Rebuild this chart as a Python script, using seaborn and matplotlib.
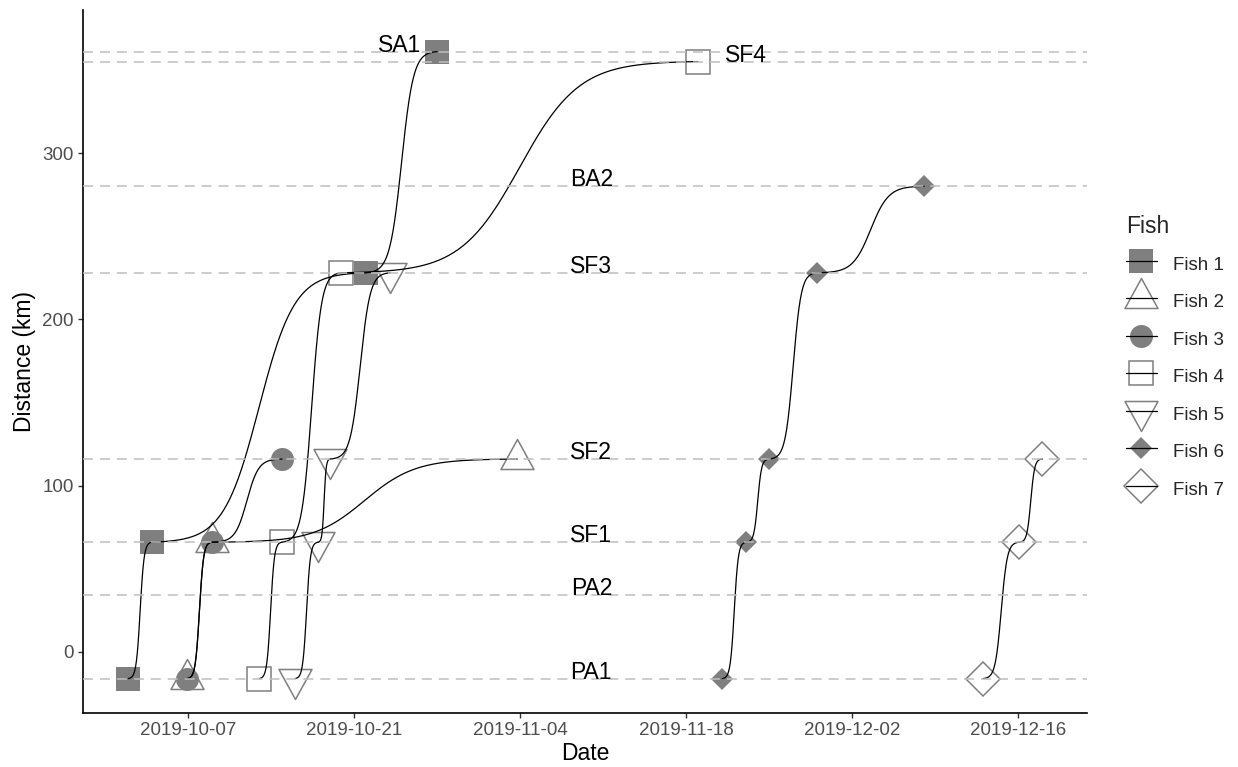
import numpy as np
import pandas as pd
import matplotlib
matplotlib.use("Agg")
import matplotlib.pyplot as plt
import matplotlib.dates as mdates
from matplotlib.lines import Line2D
from matplotlib.path import Path
from matplotlib.markers import MarkerStyle
from matplotlib.legend_handler import HandlerTuple
import seaborn as sns

# Receiver stations and their distance along the river (km)
stations = ["PA1", "PA2", "SF1", "SF2", "SF3", "BA2", "SF4", "SA1"]
station_km = [-16, 34, 66, 116, 228, 280, 355, 361]
label_dates = ["2019-11-10", "2019-11-10", "2019-11-10", "2019-11-10",
               "2019-11-10", "2019-11-10", "2019-11-23", "2019-10-24 21:00"]

fish_names = ["Fish 1", "Fish 2", "Fish 3", "Fish 4", "Fish 5", "Fish 6", "Fish 7"]

# Detection histories: time of first detection at each station
fish1_times = ["2019-10-01 23:00", "2019-10-03 23:00", "2019-10-22 00:00", "2019-10-28 00:00"]
fish1_sites = ["PA1", "SF1", "SF3", "SA1"]
fish2_times = ["2019-10-06 22:00", "2019-10-09 00:00", "2019-11-03 18:00"]
fish2_sites = ["PA1", "SF1", "SF2"]
fish3_times = ["2019-10-06 22:00", "2019-10-09 00:00", "2019-10-14 22:00"]
fish3_sites = ["PA1", "SF1", "SF2"]
fish4_times = ["2019-10-13 00:00", "2019-10-14 22:00", "2019-10-19 22:00", "2019-11-19 00:00"]
fish4_sites = ["PA1", "SF1", "SF3", "SF4"]
fish5_times = ["2019-10-16 00:30", "2019-10-17 23:00", "2019-10-18 23:30", "2019-10-24 01:00"]
fish5_sites = ["PA1", "SF1", "SF2", "SF3"]
fish6_times = ["2019-11-21 01:00", "2019-11-23 01:30", "2019-11-25 00:00",
               "2019-11-29 01:00", "2019-12-08 01:30"]
fish6_sites = ["PA1", "SF1", "SF2", "SF3", "BA2"]
fish7_times = ["2019-12-13 01:00", "2019-12-16 02:00", "2019-12-18 00:30"]
fish7_sites = ["PA1", "SF1", "SF2"]

x_ticks = ["2019-10-07", "2019-10-21", "2019-11-04", "2019-11-18", "2019-12-02", "2019-12-16"]
y_ticks = [0, 100, 200, 300]

all_times = [fish1_times, fish2_times, fish3_times, fish4_times,
             fish5_times, fish6_times, fish7_times]
all_sites = [fish1_sites, fish2_sites, fish3_sites, fish4_sites,
             fish5_sites, fish6_sites, fish7_sites]

km_of = dict(zip(stations, station_km))
rows = []
for name, times, sites in zip(fish_names, all_times, all_sites):
    for t, s in zip(times, sites):
        rows.append({"fish": name, "time": mdates.date2num(pd.Timestamp(t)),
                     "station": s, "km": km_of[s]})
detections = pd.DataFrame(rows)


def sigmoid_path(t0, t1, d0, d1, smooth=6, n=150):
    u = np.linspace(-smooth, smooth, n)
    s = 1.0 / (1.0 + np.exp(-u))
    s = (s - s[0]) / (s[-1] - s[0])
    return np.linspace(t0, t1, n), d0 + (d1 - d0) * s


curve_rows = []
seg_id = 0
for name, grp in detections.groupby("fish", sort=False):
    g = grp.sort_values("time").reset_index(drop=True)
    for i in range(len(g) - 1):
        xs, ys = sigmoid_path(g.time[i], g.time[i + 1], g.km[i], g.km[i + 1])
        for xv, yv in zip(xs, ys):
            curve_rows.append({"seg": seg_id, "x": xv, "y": yv})
        seg_id += 1
curves = pd.DataFrame(curve_rows)

# Figure styling
sns.set_theme(style="ticks")
plt.rcParams["font.family"] = ["Liberation Sans", "DejaVu Sans"]
plt.rcParams["lines.scale_dashes"] = False

DPI = 100
fig = plt.figure(figsize=(12.38, 7.67), dpi=DPI)
ax = fig.add_axes([83 / 1238, 1 - 713 / 767, (1087 - 83) / 1238, (713 - 10) / 767])

grey = "#7F7F7F"
px = 72.0 / DPI


def tri(up=True):
    s = 1 if up else -1
    verts = [(0, 20 * s), (-16.5, -10 * s), (16.5, -10 * s), (0, 20 * s)]
    return MarkerStyle(Path(verts, closed=True))


marker_specs = {
    "Fish 1": dict(marker="s", ms=24 * px, mfc=grey, mec=grey, mew=0),
    "Fish 2": dict(marker=tri(True), ms=40 * px, mfc="none", mec=grey, mew=1.1),
    "Fish 3": dict(marker="o", ms=23 * px, mfc=grey, mec=grey, mew=0),
    "Fish 4": dict(marker="s", ms=24.5 * px, mfc="none", mec=grey, mew=1.1),
    "Fish 5": dict(marker=tri(False), ms=40 * px, mfc="none", mec=grey, mew=1.1),
    "Fish 6": dict(marker="D", ms=15 * px, mfc=grey, mec=grey, mew=0),
    "Fish 7": dict(marker="D", ms=24 * px, mfc="none", mec=grey, mew=1.1),
}

# Detection markers
for name in fish_names:
    d = detections[detections.fish == name]
    ax.plot(d.time, d.km, linestyle="none", zorder=2, **marker_specs[name])

# Movement paths between detections
sns.lineplot(data=curves, x="x", y="y", units="seg", estimator=None, sort=False,
             color="black", linewidth=0.9, legend=False, ax=ax, zorder=3)

# Station reference lines and labels
for st, km, ld in zip(stations, station_km, label_dates):
    ax.axhline(km, color="#BEBEBE", linewidth=1.1, dashes=(7.2, 5.0), zorder=4)
    ax.text(mdates.date2num(pd.Timestamp(ld)), km, st, ha="center", va="baseline",
            fontsize=16.5, color="black", zorder=5)

ax.set_xlim(mdates.date2num(pd.Timestamp("2019-09-28 03:20")),
            mdates.date2num(pd.Timestamp("2019-12-21 19:00")))
ax.set_ylim(-36.7, 386)
ax.set_xticks([mdates.date2num(pd.Timestamp(t)) for t in x_ticks])
ax.xaxis.set_major_formatter(mdates.DateFormatter("%Y-%m-%d"))
ax.set_yticks(y_ticks)

ax.set_xlabel("Date", fontsize=16.5, color="black", labelpad=2)
ax.set_ylabel("Distance (km)", fontsize=16.5, color="black", labelpad=5)
ax.tick_params(axis="both", labelsize=13.5, labelcolor="#4D4D4D", color="#333333",
               length=3.5, width=1.0, pad=3)
for side in ["top", "right"]:
    ax.spines[side].set_visible(False)
for side in ["left", "bottom"]:
    ax.spines[side].set_color("black")
    ax.spines[side].set_linewidth(1.2)
ax.grid(False)

# Legend: marker with the path line drawn across it
handles = []
for name in fish_names:
    pt = Line2D([0], [0], linestyle="none", **marker_specs[name])
    ln = Line2D([0], [0], color="black", linewidth=0.9)
    handles.append((pt, ln))
leg = fig.legend(handles, fish_names, title="Fish", loc="upper left",
                 bbox_to_anchor=(1126 / 1238, 1 - 215 / 767), frameon=False,
                 fontsize=13.5, title_fontsize=16.5, handlelength=1.65,
                 handleheight=1.5, labelspacing=0.78, handletextpad=0.85,
                 borderpad=0, borderaxespad=0, alignment="left",
                 handler_map={tuple: HandlerTuple(ndivide=1)})
leg._legend_box.sep = 10

fig.savefig("out.png", dpi=DPI)
